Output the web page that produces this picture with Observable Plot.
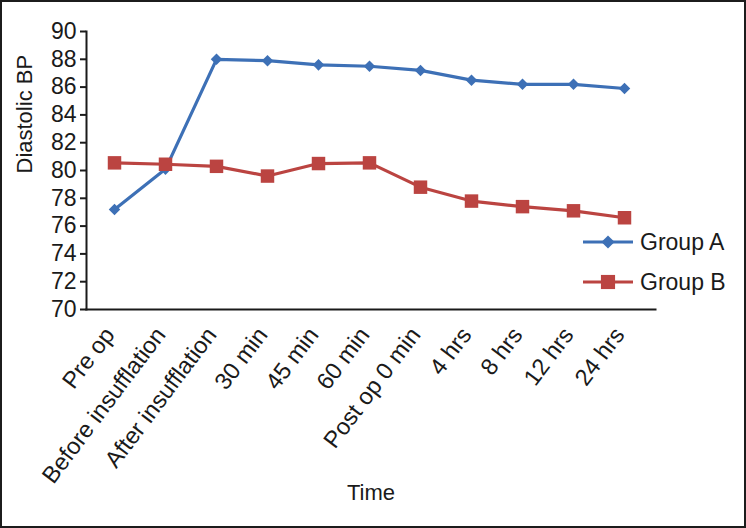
<!DOCTYPE html>
<html>
<head>
<meta charset="utf-8">
<script src="https://cdn.jsdelivr.net/npm/d3@7"></script>
<script src="https://cdn.jsdelivr.net/npm/@observablehq/plot@0.6"></script>
<style>
  html, body { margin: 0; padding: 0; background: #fff; }
  #wrap { position: relative; width: 746px; height: 528px; overflow: hidden; font-family: "Liberation Sans", Arial, sans-serif; }
  #border { position: absolute; left: 0; top: 0; width: 746px; height: 528px; box-sizing: border-box; border: 2px solid #1c1c1c; pointer-events: none; }
  #legend { position: absolute; left: 580px; top: 224px; }
  #chart svg text { font-family: "Liberation Sans", Arial, sans-serif; }
</style>
</head>
<body>
<div id="wrap">
  <div id="chart"></div>
  <div id="legend"></div>
  <div id="border"></div>
</div>
<script>
const categories = ["Pre op", "Before insufflation", "After insufflation", "30 min", "45 min", "60 min", "Post op 0 min", "4 hrs", "8 hrs", "12 hrs", "24 hrs"];
const groupA = [77.2, 80.1, 88.0, 87.9, 87.6, 87.5, 87.2, 86.5, 86.2, 86.2, 85.9];
const groupB = [80.55, 80.45, 80.3, 79.6, 80.5, 80.55, 78.8, 77.8, 77.4, 77.1, 76.6];
const seriesNames = ["Group A", "Group B"];
const yTicks = [70, 72, 74, 76, 78, 80, 82, 84, 86, 88, 90];

const blue = "#3d70b6";
const red = "#bb4441";

const rowsA = categories.map((c, i) => ({time: c, value: groupA[i]}));
const rowsB = categories.map((c, i) => ({time: c, value: groupB[i]}));

const chart = Plot.plot({
  width: 746,
  height: 528,
  marginLeft: 86,
  marginRight: 91,
  marginTop: 31,
  marginBottom: 219,
  style: {fontFamily: "Liberation Sans, Arial, sans-serif", fontSize: "22px", color: "#1a1a1a", background: "transparent"},
  x: {type: "point", domain: categories, range: [112, 625], padding: 0},
  y: {domain: [70, 90]},
  marks: [
    Plot.frame({anchor: "left", stroke: "#1a1a1a", strokeWidth: 2}),
    Plot.frame({anchor: "bottom", stroke: "#1a1a1a", strokeWidth: 2}),
    Plot.axisY({ticks: yTicks, tickSize: 6, tickPadding: 4, fontSize: 23, label: null, stroke: "#1a1a1a", strokeWidth: 2}),
    Plot.axisX({tickRotate: -53, tickSize: 0, tickPadding: 21, dx: -5, fontSize: 23.5, label: null}),
    Plot.text(["Time"], {frameAnchor: "bottom", dy: 190, fontSize: 22, fill: "#1a1a1a"}),
    Plot.text(["Diastolic BP"], {frameAnchor: "left", dx: -62, dy: 3, rotate: -90, fontSize: 22, fill: "#1a1a1a"}),
    Plot.line(rowsA, {x: "time", y: "value", stroke: blue, strokeWidth: 3.2}),
    Plot.line(rowsB, {x: "time", y: "value", stroke: red, strokeWidth: 3.2}),
    Plot.dot(rowsA, {x: "time", y: "value", symbol: "diamond2", r: 5.2, fill: blue}),
    Plot.dot(rowsB, {x: "time", y: "value", symbol: "square", r: 7.6, fill: red})
  ]
});
document.getElementById("chart").appendChild(chart);

// Legend
const legendColors = [blue, red];
const legendSymbols = [d3.symbolDiamond2, d3.symbolSquare];
const legendSizes = [110, 200];
const lg = d3.select("#legend").append("svg").attr("width", 166).attr("height", 80);
seriesNames.forEach((name, i) => {
  const g = lg.append("g").attr("transform", `translate(0, ${18 + i * 40})`);
  g.append("line").attr("x1", 3).attr("x2", 53).attr("y1", 0).attr("y2", 0)
    .attr("stroke", legendColors[i]).attr("stroke-width", 3.2);
  g.append("path").attr("d", d3.symbol(legendSymbols[i], legendSizes[i])())
    .attr("transform", "translate(28,0)").attr("fill", legendColors[i]);
  g.append("text").attr("x", 60).attr("y", 0).attr("dy", "0.35em")
    .attr("font-size", 23).attr("fill", "#1a1a1a")
    .style("font-family", "Liberation Sans, Arial, sans-serif").text(name);
});
</script>
</body>
</html>
